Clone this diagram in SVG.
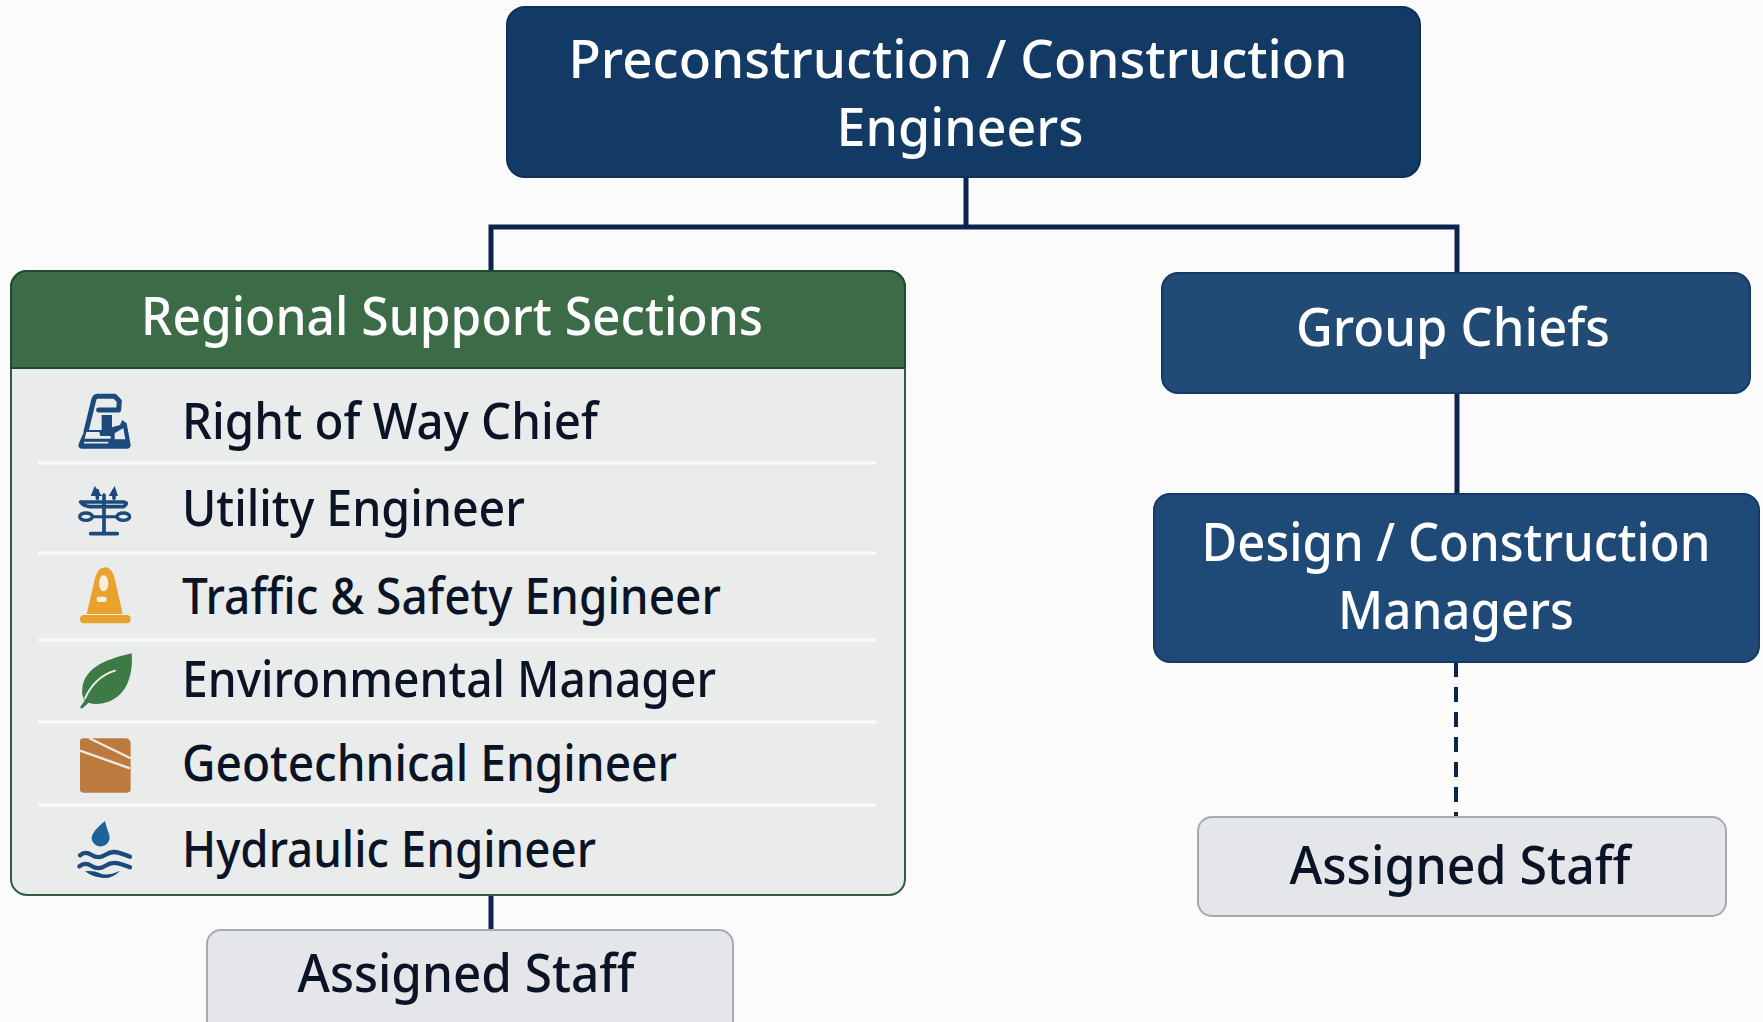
<svg xmlns="http://www.w3.org/2000/svg" width="1763" height="1022" viewBox="0 0 1763 1022">
<style>
text{font-family:"Noto Sans","Open Sans","Liberation Sans",sans-serif;font-weight:500}
.w{fill:#fff;font-size:53px;text-anchor:middle}
.d{fill:#0a1426;font-size:50px}
.a{fill:#0a1426;font-size:53px;text-anchor:middle}
.c{fill:none;stroke:#0d2450;stroke-width:5}
.sep{stroke:#fafbfa;stroke-width:3}
.staff{fill:#e4e6ea;stroke:#a4aab4;stroke-width:2}
.b{fill:#1c4a7c}
.s{fill:none;stroke:#1c4a7c;stroke-linecap:round}
</style>
<rect width="1763" height="1022" fill="#fbfbfb"/>
<g id="connectors">
<path class="c" d="M966 178V227M491 271V227H1457V273"/>
<path class="c" d="M1457 393V494"/>
<path class="c" d="M491 895V930"/>
<path d="M1456 662V817" fill="none" stroke="#0d2450" stroke-width="4" stroke-dasharray="15 10"/>
</g>
<g id="top">
<rect x="507" y="7" width="913" height="170" rx="18" fill="#123a65" stroke="#0f2f58" stroke-width="2"/>
<text class="w" x="958" y="78" textLength="779" lengthAdjust="spacingAndGlyphs">Preconstruction / Construction</text>
<text class="w" x="960" y="146" textLength="247" lengthAdjust="spacingAndGlyphs">Engineers</text>
</g>
<g id="regional-support-sections">
<rect x="11" y="271" width="894" height="624" rx="16" fill="#e9ecea" stroke="#2f5f3f" stroke-width="2"/>
<path d="M11 368V287a16 16 0 0 1 16-16H889a16 16 0 0 1 16 16V368Z" fill="#3b6c47" stroke="#1f4a30" stroke-width="2"/>
<text class="w" x="452" y="335" textLength="622" lengthAdjust="spacingAndGlyphs">Regional Support Sections</text>
<path class="sep" d="M38 463H876M38 553H876M38 640H876M38 722H876M38 805H876"/>
</g>
<g id="right-of-way-chief">
<g transform="translate(40 370) scale(.3333)">
<path class="s" stroke-width="15" stroke-linejoin="round" d="M176 120H236L238 93 224 79H172Q163 79 160 95L138 185"/>
<path class="b" d="M185 135H216V172L240 165 247 150 260 160 272 225Q272 236 260 236H127Q115 236 115 225Q120 210 135 180H185Z"/>
<path d="M139 186H178L181 198H212V206H134ZM224 190 250 174 256 208H224Z" fill="#e9ecea"/>
<path d="M132 218H205" stroke="#e9ecea" stroke-width="5"/>
</g>
<text class="d" x="182" y="439" textLength="416" lengthAdjust="spacingAndGlyphs">Right of Way Chief</text>
</g>
<g id="utility-engineer">
<g transform="translate(40 370) scale(.3333)">
<path class="s" stroke-width="11" stroke-linejoin="round" d="M192 375V491M152 491H232M122 396H250Q268 398 250 410H150Q130 408 122 396M172 362V385M222 362V385"/>
<path class="b" d="M152 378 164 348 186 378ZM206 378 224 348 234 378Z"/>
<ellipse class="s" cx="138" cy="440" rx="19" ry="11" stroke-width="10"/>
<ellipse class="s" cx="250" cy="440" rx="19" ry="11" stroke-width="10"/>
<path class="s" stroke-width="9" d="M158 440H230"/>
</g>
<text class="d" x="182" y="526" textLength="343" lengthAdjust="spacingAndGlyphs">Utility Engineer</text>
</g>
<g id="traffic-safety-engineer">
<g transform="translate(40 370) scale(.3333)">
<path fill="#e8a32e" d="M195 592Q216 592 224 625L248 732H140L165 625Q174 592 195 592Z"/>
<rect x="120" y="735" width="152" height="25" rx="12" fill="#e8a32e"/>
<ellipse cx="191" cy="640" rx="14" ry="24" fill="#f5efe0"/>
<rect x="170" y="680" width="30" height="16" rx="6" fill="#f5efe0"/>
</g>
<text class="d" x="182" y="614" textLength="539" lengthAdjust="spacingAndGlyphs">Traffic &amp; Safety Engineer</text>
</g>
<g id="environmental-manager">
<g transform="translate(40 630) scale(.3333)">
<path fill="#3d7a45" d="M275 70C215 85 135 105 127 175Q124 195 134 212L120 232 126 236 146 218Q170 228 205 215C265 195 280 125 275 70Z"/>
<path d="M135 205Q165 140 225 122" fill="none" stroke="#eef1ef" stroke-width="6" stroke-linecap="round"/>
</g>
<text class="d" x="182" y="697" textLength="534" lengthAdjust="spacingAndGlyphs">Environmental Manager</text>
</g>
<g id="geotechnical-engineer">
<g transform="translate(40 630) scale(.3333)">
<path fill="#bd7a3f" d="M130 325H255Q272 325 272 342V478Q272 488 262 488H130Q120 488 120 478V335Q120 325 130 325Z"/>
<path d="M120 362 270 415M148 325 272 385" fill="none" stroke="#f0ebe2" stroke-width="7"/>
</g>
<text class="d" x="182" y="781" textLength="495" lengthAdjust="spacingAndGlyphs">Geotechnical Engineer</text>
</g>
<g id="hydraulic-engineer">
<g transform="translate(40 630) scale(.3333)">
<path fill="#1f6299" d="M195 573Q200 595 208 615A27 27 0 1 1 155 622Q160 600 195 573Z"/>
<path class="s" stroke-width="13" d="M120 676Q135 662 155 675T195 675 235 668 270 680M118 709Q135 695 155 708T195 708 235 700 270 712"/>
<path fill="#1c4a7c" d="M135 724Q160 720 180 730T240 722Q220 745 190 744T135 724Z"/>
</g>
<text class="d" x="182" y="867" textLength="414" lengthAdjust="spacingAndGlyphs">Hydraulic Engineer</text>
</g>
<g id="group-chiefs">
<rect x="1162" y="273" width="588" height="120" rx="16" fill="#214a75" stroke="#163a66" stroke-width="2"/>
<text class="w" x="1453" y="346" textLength="314" lengthAdjust="spacingAndGlyphs">Group Chiefs</text>
</g>
<g id="design-construction-managers">
<rect x="1154" y="494" width="605" height="168" rx="16" fill="#1f4a78" stroke="#163a66" stroke-width="2"/>
<text class="w" x="1456" y="561" textLength="509" lengthAdjust="spacingAndGlyphs">Design / Construction</text>
<text class="w" x="1456" y="629" textLength="236" lengthAdjust="spacingAndGlyphs">Managers</text>
</g>
<g id="assigned-staff-right">
<rect class="staff" x="1198" y="817" width="528" height="99" rx="14"/>
<text class="a" x="1460" y="884" textLength="341" lengthAdjust="spacingAndGlyphs">Assigned Staff</text>
</g>
<g id="assigned-staff-left">
<rect class="staff" x="207" y="930" width="526" height="110" rx="14"/>
<text class="a" x="466" y="992" textLength="337" lengthAdjust="spacingAndGlyphs">Assigned Staff</text>
</g>
</svg>
